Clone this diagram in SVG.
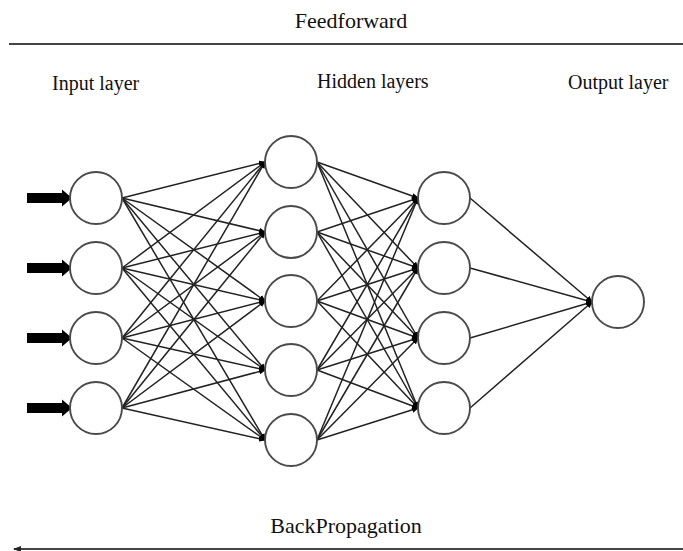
<svg xmlns="http://www.w3.org/2000/svg" width="683" height="551" viewBox="0 0 683 551">
<defs>
<style>
text{font-family:"Liberation Serif","Times New Roman",serif;fill:#111}
.t{font-size:22px}
.l{font-size:20px}
.node{fill:#fff;stroke:#4a4a4a;stroke-width:1.9}
.c line{stroke:#222;stroke-width:1.5;marker-end:url(#ah)}
.rule{stroke:#444;stroke-width:2}
.in{fill:#000}
</style>
<marker id="ah" markerUnits="userSpaceOnUse" markerWidth="7" markerHeight="6" refX="6" refY="3" orient="auto">
<path d="M0,0 L7,3 L0,6 z" fill="#000"/>
</marker>
<marker id="bh" markerUnits="userSpaceOnUse" markerWidth="8" markerHeight="6" refX="1" refY="3" orient="auto">
<path d="M8,0 L0,3 L8,6 z" fill="#222"/>
</marker>
</defs>
<rect width="683" height="551" fill="#fff"/>
<text class="t" x="351" y="28" text-anchor="middle">Feedforward</text>
<line class="rule" x1="9" y1="44" x2="683" y2="44"/>
<text class="l" x="52" y="90">Input layer</text>
<text class="l" x="317" y="88">Hidden layers</text>
<text class="l" x="568" y="89">Output layer</text>
<text class="t" x="346" y="533" text-anchor="middle">BackPropagation</text>
<line class="rule" x1="14" y1="549" x2="683" y2="549" marker-start="url(#bh)"/>
<g id="inputs-arrows">
<path class="in" d="M27,193 H62 V189.5 L72,198 L62,206.5 V203 H27 z"/>
<path class="in" d="M27,263 H62 V259.5 L72,268 L62,276.5 V273 H27 z"/>
<path class="in" d="M27,333 H62 V329.5 L72,338 L62,346.5 V343 H27 z"/>
<path class="in" d="M27,403 H62 V399.5 L72,408 L62,416.5 V413 H27 z"/>
</g>
<g class="c" id="connectors">
<line x1="122" y1="198" x2="265" y2="162"/><line x1="122" y1="198" x2="265" y2="232"/><line x1="122" y1="198" x2="265" y2="301"/><line x1="122" y1="198" x2="265" y2="370"/><line x1="122" y1="198" x2="265" y2="440"/>
<line x1="122" y1="268" x2="265" y2="162"/><line x1="122" y1="268" x2="265" y2="232"/><line x1="122" y1="268" x2="265" y2="301"/><line x1="122" y1="268" x2="265" y2="370"/><line x1="122" y1="268" x2="265" y2="440"/>
<line x1="122" y1="338" x2="265" y2="162"/><line x1="122" y1="338" x2="265" y2="232"/><line x1="122" y1="338" x2="265" y2="301"/><line x1="122" y1="338" x2="265" y2="370"/><line x1="122" y1="338" x2="265" y2="440"/>
<line x1="122" y1="408" x2="265" y2="162"/><line x1="122" y1="408" x2="265" y2="232"/><line x1="122" y1="408" x2="265" y2="301"/><line x1="122" y1="408" x2="265" y2="370"/><line x1="122" y1="408" x2="265" y2="440"/>
<line x1="317" y1="162" x2="418" y2="198"/><line x1="317" y1="162" x2="418" y2="268"/><line x1="317" y1="162" x2="418" y2="338"/><line x1="317" y1="162" x2="418" y2="408"/>
<line x1="317" y1="232" x2="418" y2="198"/><line x1="317" y1="232" x2="418" y2="268"/><line x1="317" y1="232" x2="418" y2="338"/><line x1="317" y1="232" x2="418" y2="408"/>
<line x1="317" y1="301" x2="418" y2="198"/><line x1="317" y1="301" x2="418" y2="268"/><line x1="317" y1="301" x2="418" y2="338"/><line x1="317" y1="301" x2="418" y2="408"/>
<line x1="317" y1="370" x2="418" y2="198"/><line x1="317" y1="370" x2="418" y2="268"/><line x1="317" y1="370" x2="418" y2="338"/><line x1="317" y1="370" x2="418" y2="408"/>
<line x1="317" y1="440" x2="418" y2="198"/><line x1="317" y1="440" x2="418" y2="268"/><line x1="317" y1="440" x2="418" y2="338"/><line x1="317" y1="440" x2="418" y2="408"/>
<line x1="470" y1="198" x2="592" y2="302"/><line x1="470" y1="268" x2="592" y2="302"/><line x1="470" y1="338" x2="592" y2="302"/><line x1="470" y1="408" x2="592" y2="302"/>
</g>
<g id="in1"><circle class="node" cx="96" cy="198" r="26"/></g>
<g id="in2"><circle class="node" cx="96" cy="268" r="26"/></g>
<g id="in3"><circle class="node" cx="96" cy="338" r="26"/></g>
<g id="in4"><circle class="node" cx="96" cy="408" r="26"/></g>
<g id="h1a"><circle class="node" cx="291" cy="162" r="26"/></g>
<g id="h1b"><circle class="node" cx="291" cy="232" r="26"/></g>
<g id="h1c"><circle class="node" cx="291" cy="301" r="26"/></g>
<g id="h1d"><circle class="node" cx="291" cy="370" r="26"/></g>
<g id="h1e"><circle class="node" cx="291" cy="440" r="26"/></g>
<g id="h2a"><circle class="node" cx="444" cy="198" r="26"/></g>
<g id="h2b"><circle class="node" cx="444" cy="268" r="26"/></g>
<g id="h2c"><circle class="node" cx="444" cy="338" r="26"/></g>
<g id="h2d"><circle class="node" cx="444" cy="408" r="26"/></g>
<g id="out"><circle class="node" cx="618" cy="302" r="26"/></g>
</svg>
